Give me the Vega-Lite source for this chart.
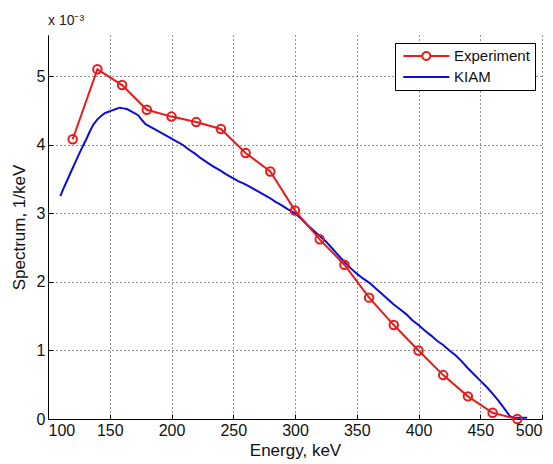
{
  "$schema": "https://vega.github.io/schema/vega-lite/v6.json",
  "width": 494,
  "height": 384,
  "autosize": {"type": "none"},
  "padding": {"left": 48, "top": 35, "right": 11, "bottom": 45},
  "background": "white",
  "title": {"text": "x 10⁻³", "anchor": "start", "frame": "group", "orient": "top", "offset": 7, "dx": 0, "fontSize": 14, "font": "Liberation Sans", "fontWeight": "normal", "color": "#222"},
  "config": {
    "view": {"stroke": null},
    "font": "Liberation Sans",
    "axis": {"domainColor": "black", "domainWidth": 1, "tickColor": "black", "labelColor": "#111", "titleColor": "#111", "labelFont": "Liberation Sans", "titleFont": "Liberation Sans", "labelFontSize": 16, "titleFontSize": 17, "titleFontWeight": "normal", "grid": true, "gridColor": "#111", "gridDash": [1, 3], "gridOpacity": 0.9, "gridWidth": 1, "tickSize": -5, "labelPadding": 8}
  },
  "datasets": {
    "exp": [
      {"energy": 120, "value": 4.08, "series": "Experiment"},
      {"energy": 140, "value": 5.10, "series": "Experiment"},
      {"energy": 160, "value": 4.87, "series": "Experiment"},
      {"energy": 180, "value": 4.51, "series": "Experiment"},
      {"energy": 200, "value": 4.41, "series": "Experiment"},
      {"energy": 220, "value": 4.33, "series": "Experiment"},
      {"energy": 240, "value": 4.23, "series": "Experiment"},
      {"energy": 260, "value": 3.88, "series": "Experiment"},
      {"energy": 280, "value": 3.61, "series": "Experiment"},
      {"energy": 300, "value": 3.04, "series": "Experiment"},
      {"energy": 320, "value": 2.62, "series": "Experiment"},
      {"energy": 340, "value": 2.25, "series": "Experiment"},
      {"energy": 360, "value": 1.77, "series": "Experiment"},
      {"energy": 380, "value": 1.37, "series": "Experiment"},
      {"energy": 400, "value": 1.00, "series": "Experiment"},
      {"energy": 420, "value": 0.64, "series": "Experiment"},
      {"energy": 440, "value": 0.33, "series": "Experiment"},
      {"energy": 460, "value": 0.09, "series": "Experiment"},
      {"energy": 480, "value": 0.00, "series": "Experiment"}
    ],
    "kiam": [
      {"energy": 110, "value": 3.25, "series": "KIAM"},
      {"energy": 113, "value": 3.38, "series": "KIAM"},
      {"energy": 116, "value": 3.50, "series": "KIAM"},
      {"energy": 119, "value": 3.62, "series": "KIAM"},
      {"energy": 122, "value": 3.74, "series": "KIAM"},
      {"energy": 125, "value": 3.86, "series": "KIAM"},
      {"energy": 128, "value": 3.97, "series": "KIAM"},
      {"energy": 131, "value": 4.08, "series": "KIAM"},
      {"energy": 134, "value": 4.20, "series": "KIAM"},
      {"energy": 137, "value": 4.30, "series": "KIAM"},
      {"energy": 140, "value": 4.37, "series": "KIAM"},
      {"energy": 143, "value": 4.42, "series": "KIAM"},
      {"energy": 146, "value": 4.46, "series": "KIAM"},
      {"energy": 149, "value": 4.48, "series": "KIAM"},
      {"energy": 152, "value": 4.50, "series": "KIAM"},
      {"energy": 155, "value": 4.52, "series": "KIAM"},
      {"energy": 158, "value": 4.54, "series": "KIAM"},
      {"energy": 161, "value": 4.53, "series": "KIAM"},
      {"energy": 164, "value": 4.52, "series": "KIAM"},
      {"energy": 167, "value": 4.49, "series": "KIAM"},
      {"energy": 170, "value": 4.46, "series": "KIAM"},
      {"energy": 173, "value": 4.43, "series": "KIAM"},
      {"energy": 176, "value": 4.36, "series": "KIAM"},
      {"energy": 179, "value": 4.30, "series": "KIAM"},
      {"energy": 183, "value": 4.26, "series": "KIAM"},
      {"energy": 187, "value": 4.22, "series": "KIAM"},
      {"energy": 191, "value": 4.18, "series": "KIAM"},
      {"energy": 195, "value": 4.14, "series": "KIAM"},
      {"energy": 199, "value": 4.10, "series": "KIAM"},
      {"energy": 204, "value": 4.05, "series": "KIAM"},
      {"energy": 209, "value": 4.00, "series": "KIAM"},
      {"energy": 214, "value": 3.93, "series": "KIAM"},
      {"energy": 219, "value": 3.87, "series": "KIAM"},
      {"energy": 224, "value": 3.80, "series": "KIAM"},
      {"energy": 229, "value": 3.74, "series": "KIAM"},
      {"energy": 234, "value": 3.68, "series": "KIAM"},
      {"energy": 239, "value": 3.63, "series": "KIAM"},
      {"energy": 244, "value": 3.57, "series": "KIAM"},
      {"energy": 249, "value": 3.52, "series": "KIAM"},
      {"energy": 254, "value": 3.47, "series": "KIAM"},
      {"energy": 259, "value": 3.43, "series": "KIAM"},
      {"energy": 264, "value": 3.38, "series": "KIAM"},
      {"energy": 269, "value": 3.33, "series": "KIAM"},
      {"energy": 274, "value": 3.28, "series": "KIAM"},
      {"energy": 279, "value": 3.23, "series": "KIAM"},
      {"energy": 284, "value": 3.17, "series": "KIAM"},
      {"energy": 289, "value": 3.12, "series": "KIAM"},
      {"energy": 294, "value": 3.06, "series": "KIAM"},
      {"energy": 300, "value": 3.00, "series": "KIAM"},
      {"energy": 305, "value": 2.92, "series": "KIAM"},
      {"energy": 310, "value": 2.83, "series": "KIAM"},
      {"energy": 315, "value": 2.75, "series": "KIAM"},
      {"energy": 320, "value": 2.67, "series": "KIAM"},
      {"energy": 325, "value": 2.59, "series": "KIAM"},
      {"energy": 330, "value": 2.49, "series": "KIAM"},
      {"energy": 335, "value": 2.39, "series": "KIAM"},
      {"energy": 340, "value": 2.29, "series": "KIAM"},
      {"energy": 345, "value": 2.20, "series": "KIAM"},
      {"energy": 350, "value": 2.12, "series": "KIAM"},
      {"energy": 355, "value": 2.05, "series": "KIAM"},
      {"energy": 360, "value": 1.99, "series": "KIAM"},
      {"energy": 365, "value": 1.91, "series": "KIAM"},
      {"energy": 370, "value": 1.83, "series": "KIAM"},
      {"energy": 375, "value": 1.75, "series": "KIAM"},
      {"energy": 380, "value": 1.67, "series": "KIAM"},
      {"energy": 385, "value": 1.60, "series": "KIAM"},
      {"energy": 390, "value": 1.53, "series": "KIAM"},
      {"energy": 395, "value": 1.44, "series": "KIAM"},
      {"energy": 400, "value": 1.37, "series": "KIAM"},
      {"energy": 405, "value": 1.29, "series": "KIAM"},
      {"energy": 410, "value": 1.22, "series": "KIAM"},
      {"energy": 415, "value": 1.14, "series": "KIAM"},
      {"energy": 420, "value": 1.08, "series": "KIAM"},
      {"energy": 425, "value": 1.00, "series": "KIAM"},
      {"energy": 430, "value": 0.93, "series": "KIAM"},
      {"energy": 435, "value": 0.84, "series": "KIAM"},
      {"energy": 440, "value": 0.74, "series": "KIAM"},
      {"energy": 445, "value": 0.65, "series": "KIAM"},
      {"energy": 450, "value": 0.56, "series": "KIAM"},
      {"energy": 455, "value": 0.47, "series": "KIAM"},
      {"energy": 460, "value": 0.37, "series": "KIAM"},
      {"energy": 465, "value": 0.26, "series": "KIAM"},
      {"energy": 470, "value": 0.14, "series": "KIAM"},
      {"energy": 474, "value": 0.04, "series": "KIAM"},
      {"energy": 477, "value": 0.02, "series": "KIAM"},
      {"energy": 480, "value": 0.02, "series": "KIAM"},
      {"energy": 484, "value": 0.02, "series": "KIAM"},
      {"energy": 488, "value": 0.02, "series": "KIAM"}
    ]
  },
  "encoding": {
    "x": {"field": "energy", "type": "quantitative", "scale": {"domain": [100, 500], "nice": false, "zero": false}, "axis": {"title": "Energy, keV", "values": [100, 150, 200, 250, 300, 350, 400, 450, 500], "titlePadding": 4}},
    "y": {"field": "value", "type": "quantitative", "scale": {"domain": [0, 5.6], "nice": false}, "axis": {"title": "Spectrum, 1/keV", "values": [0, 1, 2, 3, 4, 5], "titlePadding": 8}},
    "color": {"field": "series", "type": "nominal", "scale": {"domain": ["Experiment", "KIAM"], "range": ["#e81a1a", "#0c0cdc"]},
      "legend": {"title": null, "orient": "none", "legendX": 347, "legendY": 8, "strokeColor": "black", "fillColor": "white", "padding": 4.5, "symbolSize": 225, "symbolStrokeWidth": 2, "labelFontSize": 15, "labelColor": "#111", "labelOffset": 37.5, "rowPadding": 4,
        "labelExpr": "datum.label + '\u00a0\u00a0'",
        "encode": {"symbols": {"update": {"shape": {"signal": "datum.value === 'Experiment' ? 'M-0.627,0L1.907,0M2.973,0L5.507,0M2.973,0A0.533,0.533 0 1 1 1.907,0A0.533,0.533 0 1 1 2.973,0' : 'M-0.627,0L5.507,0'"}, "fill": {"value": "transparent"}}}}}}
  },
  "layer": [
    {"data": {"name": "kiam"}, "mark": {"type": "line", "strokeWidth": 2}},
    {"data": {"name": "exp"}, "mark": {"type": "line", "strokeWidth": 2}},
    {"data": {"name": "exp"}, "mark": {"type": "point", "filled": false, "size": 72, "strokeWidth": 2, "opacity": 1}}
  ]
}
